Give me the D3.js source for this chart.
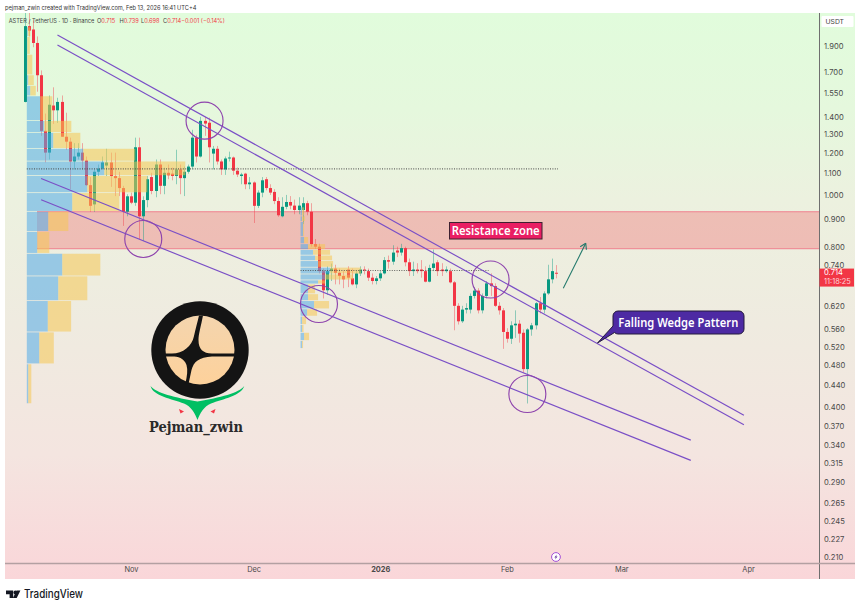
<!DOCTYPE html>
<html><head><meta charset="utf-8">
<script src="https://cdn.jsdelivr.net/npm/d3@7"></script>
<style>
html,body{margin:0;padding:0;background:#fff}
svg{display:block}
text{font-family:"Inter","Noto Sans",sans-serif}
</style></head><body>
<script>
// ---------- data ----------
const firstCandle = "2025-10-06";
const opens  = [1.493,2.07,2.04,1.925,1.675,1.318,1.20,1.47,1.44,1.493,1.285,1.258,1.155,1.18,1.20,1.16,1.043,0.96,1.105,1.12,1.135,1.15,1.085,1.075,1.03,0.93,0.994,0.967,1.228,0.912,0.978,1.08,1.017,1.14,1.04,1.10,1.096,1.085,1.116,1.075,1.105,1.13,1.28,1.18,1.376,1.365,1.195,1.22,1.155,1.116,1.17,1.175,1.11,1.085,1.096,1.047,1.055,0.954,1.01,1.07,1.03,1.013,0.974,0.912,0.95,0.97,0.955,0.937,0.937,0.965,0.93,0.809,0.80,0.72,0.663,0.72,0.728,0.715,0.705,0.725,0.698,0.68,0.713,0.725,0.72,0.70,0.69,0.698,0.713,0.755,0.75,0.787,0.78,0.795,0.748,0.72,0.725,0.725,0.72,0.688,0.73,0.748,0.725,0.72,0.72,0.686,0.62,0.58,0.61,0.61,0.647,0.662,0.608,0.647,0.683,0.675,0.62,0.608,0.554,0.538,0.57,0.574,0.552,0.472,0.56,0.57,0.627,0.61,0.654,0.695,0.715];
const highs  = [2.20,2.20,2.12,1.98,1.71,1.42,1.535,1.59,1.52,1.535,1.425,1.28,1.25,1.25,1.25,1.18,1.08,1.116,1.14,1.18,1.22,1.20,1.20,1.105,1.04,1.003,1.01,1.28,1.28,0.994,1.085,1.10,1.165,1.165,1.125,1.14,1.125,1.215,1.14,1.13,1.14,1.324,1.296,1.40,1.40,1.395,1.235,1.235,1.165,1.18,1.205,1.18,1.125,1.10,1.10,1.08,1.06,1.02,1.08,1.08,1.047,1.025,0.99,0.99,1.0,0.995,0.98,0.99,0.99,0.975,0.965,0.827,0.81,0.728,0.735,0.744,0.74,0.728,0.72,0.735,0.728,0.72,0.735,0.735,0.728,0.713,0.705,0.72,0.765,0.77,0.805,0.80,0.81,0.80,0.76,0.75,0.745,0.755,0.735,0.74,0.79,0.755,0.745,0.735,0.728,0.69,0.627,0.62,0.627,0.654,0.672,0.669,0.654,0.69,0.713,0.683,0.63,0.614,0.563,0.58,0.608,0.583,0.56,0.563,0.576,0.63,0.644,0.66,0.74,0.76,0.739];
const lows   = [1.49,1.98,1.89,1.56,1.29,1.15,1.165,1.358,1.364,1.285,1.215,1.025,1.116,1.165,1.116,1.04,0.93,0.93,1.085,1.116,1.085,1.035,0.995,0.995,0.875,0.912,0.961,0.954,0.827,0.82,0.948,1.003,0.99,1.003,1.003,1.07,1.065,1.047,1.003,0.995,1.096,1.116,1.15,1.175,1.29,1.15,1.116,1.14,1.09,1.09,1.155,1.09,1.08,1.047,1.025,1.025,0.886,0.945,0.99,1.02,1.0,0.961,0.91,0.908,0.94,0.94,0.92,0.92,0.882,0.916,0.80,0.792,0.713,0.64,0.65,0.69,0.68,0.68,0.669,0.672,0.677,0.669,0.705,0.71,0.69,0.68,0.68,0.69,0.71,0.728,0.74,0.765,0.77,0.735,0.705,0.705,0.713,0.70,0.686,0.686,0.72,0.705,0.705,0.715,0.683,0.558,0.572,0.576,0.60,0.60,0.64,0.60,0.60,0.64,0.647,0.617,0.597,0.515,0.529,0.526,0.54,0.529,0.465,0.407,0.545,0.56,0.60,0.60,0.65,0.683,0.698];
const closes = [2.07,2.03,1.925,1.675,1.318,1.20,1.475,1.44,1.493,1.285,1.258,1.155,1.18,1.20,1.16,1.043,0.954,1.105,1.12,1.15,1.15,1.085,1.075,1.03,0.93,0.994,0.967,1.228,0.912,0.978,1.07,1.017,1.14,1.04,1.10,1.088,1.085,1.116,1.075,1.105,1.13,1.28,1.18,1.376,1.36,1.228,1.22,1.155,1.116,1.17,1.175,1.11,1.092,1.092,1.047,1.055,0.954,1.01,1.065,1.03,1.01,0.974,0.916,0.95,0.97,0.955,0.937,0.955,0.965,0.93,0.809,0.80,0.72,0.663,0.72,0.728,0.715,0.705,0.695,0.70,0.68,0.713,0.725,0.722,0.70,0.69,0.698,0.713,0.755,0.75,0.78,0.78,0.795,0.748,0.72,0.725,0.72,0.72,0.688,0.73,0.744,0.72,0.72,0.725,0.686,0.62,0.58,0.61,0.614,0.647,0.662,0.608,0.647,0.683,0.675,0.62,0.608,0.554,0.538,0.57,0.574,0.55,0.472,0.56,0.57,0.627,0.61,0.654,0.695,0.72,0.714];

const priceTicks = [1.9,1.7,1.55,1.4,1.3,1.2,1.1,1.0,0.9,0.8,0.74,0.62,0.56,0.52,0.48,0.44,0.4,0.37,0.34,0.315,0.29,0.265,0.245,0.227,0.21];
const timeTicks  = ["2025-11-01","2025-12-01","2026-01-01","2026-02-01","2026-03-01","2026-04-01"];
const timeLabels = ["Nov","Dec","2026","Feb","Mar","Apr"];

// volume profiles: row edges in price, volume in each row
const profile1Edges = [2.06,1.975,1.83,1.675,1.60,1.53,1.376,1.307,1.22,1.155,1.085,1.008,0.93,0.853,0.776,0.704,0.633,0.553,0.482,0.406];
const profile1Blue  = [1,0.5,0.5,1.5,3.5,13.5,17.5,26.5,56.5,77.5,60.5,45.5,21.5,10.5,35.5,31.5,21,12.5,1.5];
const profile1Gold  = [2.5,2.5,5,5.5,5.5,12,27,27,52,81,60,47,20,12,38,29,23.3,14.5,3];
const profile2Edges = [0.948,0.912,0.89,0.834,0.809,0.789,0.77,0.752,0.731,0.71,0.692,0.68,0.652,0.633,0.611,0.592,0.571,0.552,0.533,0.515];
const profile2Blue  = [1.5,1.5,2.5,3.5,7.5,12.5,14.5,17.5,29.5,24.5,17.5,7.5,7.5,13.5,6.5,1.5,1.5,3.5,1.5];
const profile2Gold  = [2,3,1,4,17,17,17,15,31,28,7,7,10,15,10,4,1.5,5,1];
const profileStarts = ["2025-10-06T12:00","2025-12-12T12:00"];
const pocPrices = [1.119,0.722];
const pocEnds   = ["2026-02-13T12:00","2026-01-27T12:00"];

const zonePrices = [0.93,0.793];
const zoneStart  = "2025-10-09";

const wedgeDates  = [["2025-10-14","2026-03-31"],["2025-10-14","2026-03-31"],["2025-10-10","2026-03-18"],["2025-10-10","2026-03-18"]];
const wedgePrices = [[1.992,0.387],[1.908,0.3715],[1.073,0.3475],[0.979,0.3185]];

const circleDates  = ["2025-11-19","2025-11-04","2025-12-17","2026-01-28","2026-02-06"];
const circlePrices = [1.377,0.827,0.625,0.6945,0.424];

const arrowDates  = ["2026-02-14T19:00","2026-02-20T07:00"];
const arrowPrices = [0.6686,0.8117];

// ---------- scales ----------
const W=860,H=609;
const parse=s=>new Date(s.length===10?s+"T00:00Z":s+"Z");
const x=d3.scaleUtc().domain([parse("2025-11-01"),parse("2026-04-01")]).range([131,748]);
const y=d3.scaleLog().domain([1.9,0.21]).range([46,557]);
const vol=d3.scaleLinear().domain([0,100]).range([0,100]);
const plot={l:5,t:13,r:819.5,b:563,band:855,bottom:579};

const svg=d3.select("body").append("svg").attr("width",W).attr("height",H).attr("viewBox",[0,0,W,H]);
const defs=svg.append("defs");
const g=defs.append("linearGradient").attr("id","bg").attr("x1",0).attr("x2",0).attr("y1",0).attr("y2",1);
[[0,"#e1fcdc"],[0.17,"#e5f8dd"],[0.33,"#ecf1df"],[0.55,"#efebe0"],[0.78,"#f4e5e0"],[1,"#fad6d9"]]
 .forEach(([o,c])=>g.append("stop").attr("offset",o).attr("stop-color",c));
const lg=defs.append("linearGradient").attr("id","peach").attr("x1",0).attr("x2",0).attr("y1",0).attr("y2",1);
lg.append("stop").attr("offset",0).attr("stop-color","#f4d5ae");
lg.append("stop").attr("offset",1).attr("stop-color","#fdd19b");
defs.append("clipPath").attr("id","plotclip").append("rect").attr("x",plot.l).attr("y",plot.t).attr("width",plot.r-plot.l).attr("height",plot.b-plot.t);

svg.append("text").attr("x",5).attr("y",9.8).attr("font-size",5.7).attr("fill","#333")
  .text("pejman_zwin created with TradingView.com, Feb 13, 2026 16:41 UTC+4");

svg.append("rect").attr("x",plot.l).attr("y",plot.t).attr("width",plot.band-plot.l).attr("height",plot.bottom-plot.t).attr("fill","url(#bg)");

const chart=svg.append("g").attr("clip-path","url(#plotclip)");

// resistance zone
const zx=x(parse(zoneStart));
chart.append("rect").attr("x",zx).attr("y",y(zonePrices[0])).attr("width",plot.r-zx).attr("height",y(zonePrices[1])-y(zonePrices[0]))
  .attr("fill","#f23645").attr("fill-opacity",0.27);
zonePrices.forEach(p=>chart.append("line").attr("x1",zx).attr("x2",plot.r).attr("y1",y(p)).attr("y2",y(p)).attr("stroke","#f0808f").attr("stroke-width",1));

// candles
const candles=opens.map((o,i)=>({date:d3.utcDay.offset(parse(firstCandle),i),o,h:highs[i],l:lows[i],c:closes[i]}));
const cg=chart.append("g");
const UP="#089981",DN="#f23645";
cg.selectAll("line").data(candles).join("line")
  .attr("x1",d=>Math.round(x(d.date))+0.5).attr("x2",d=>Math.round(x(d.date))+0.5)
  .attr("y1",d=>y(d.h)).attr("y2",d=>y(d.l))
  .attr("stroke",d=>d.c>=d.o?UP:DN).attr("stroke-opacity",0.42);
cg.selectAll("rect").data(candles).join("rect")
  .attr("x",d=>Math.round(x(d.date))-1).attr("width",3)
  .attr("y",d=>Math.min(y(d.o),y(d.c))).attr("height",d=>Math.max(1,Math.abs(y(d.o)-y(d.c))))
  .attr("fill",d=>d.c>=d.o?UP:DN);

// volume profiles
function profile(edges,blue,gold,start){
  const x0=x(parse(start));
  const pg=chart.append("g");
  blue.forEach((b,i)=>{
    const y0=y(edges[i]),y1=y(edges[i+1])-0.8;
    pg.append("rect").attr("x",x0).attr("y",y0).attr("width",vol(b)).attr("height",y1-y0).attr("fill","#50a9e7").attr("fill-opacity",0.55);
    pg.append("rect").attr("x",x0+vol(b)).attr("y",y0).attr("width",vol(gold[i])).attr("height",y1-y0).attr("fill","#f6c652").attr("fill-opacity",0.55);
  });
}
profile(profile1Edges,profile1Blue,profile1Gold,profileStarts[0]);
profile(profile2Edges,profile2Blue,profile2Gold,profileStarts[1]);

// POC dotted lines
pocPrices.forEach((p,i)=>chart.append("line")
  .attr("x1",x(parse(profileStarts[i]))).attr("x2",x(parse(pocEnds[i])))
  .attr("y1",y(p)).attr("y2",y(p)).attr("stroke","#444").attr("stroke-opacity",.8).attr("stroke-width",1.1).attr("stroke-dasharray","1 1.4"));

// wedge lines
const PURPLE="#7a4fc6";
wedgeDates.forEach((ds,i)=>{
  const pts=ds.map((d,j)=>[x(parse(d)),y(wedgePrices[i][j])]);
  chart.append("path").attr("d",d3.line()(pts)).attr("fill","none").attr("stroke",PURPLE).attr("stroke-width",1.15);
});

// circles
circleDates.forEach((d,i)=>chart.append("circle").attr("cx",x(parse(d))).attr("cy",y(circlePrices[i])).attr("r",18.5)
  .attr("fill","none").attr("stroke","#8e44ad").attr("stroke-width",1.15));

// arrow
const ax0=x(parse(arrowDates[0])),ay0=y(arrowPrices[0]),ax1=x(parse(arrowDates[1])),ay1=y(arrowPrices[1]);
chart.append("path").attr("d",`M${ax0},${ay0}L${ax1},${ay1}`).attr("stroke","#22796b").attr("fill","none").attr("stroke-width",1.1);
const ang=Math.atan2(ay1-ay0,ax1-ax0);
const headLine=(a)=>`M${ax1},${ay1}L${ax1+6.5*Math.cos(ang+a)},${ay1+6.5*Math.sin(ang+a)}`;
chart.append("path").attr("d",headLine(Math.PI*0.82)+headLine(-Math.PI*0.82)).attr("stroke","#22796b").attr("fill","none").attr("stroke-width",1.1);

// resistance label
const labelFont='"Noto Sans",sans-serif';
svg.append("rect").attr("x",449.5).attr("y",222.5).attr("width",92.5).attr("height",16.5).attr("fill","#e91e63").attr("stroke","#3d2030").attr("stroke-width",1);
svg.append("text").attr("x",495.7).attr("y",235.2).attr("text-anchor","middle").attr("fill","#fff").attr("font-size",12.2).attr("font-weight",600)
  .attr("textLength",88).attr("lengthAdjust","spacingAndGlyphs").style("font-family",labelFont).text("Resistance zone");

// wedge label
svg.append("path")
  .attr("d","M618,311H739a5,5 0 0 1 5,5V329a5,5 0 0 1 -5,5H618a5,5 0 0 1 -3.5,-1.5L597.5,343L613,326V316a5,5 0 0 1 5,-5Z")
  .attr("fill","#4d2aa3").attr("stroke","#241a3d").attr("stroke-width",1);
svg.append("text").attr("x",678.3).attr("y",326.8).attr("text-anchor","middle").attr("fill","#fff").attr("font-size",12.2).attr("font-weight",600)
  .attr("textLength",120).attr("lengthAdjust","spacingAndGlyphs").style("font-family",labelFont).text("Falling Wedge Pattern");

// logo
const logo=svg.append("g");
logo.append("circle").attr("cx",200).attr("cy",350).attr("r",48.7).attr("fill","#141414");
logo.append("circle").attr("cx",200).attr("cy",350).attr("r",34.5).attr("fill","url(#peach)");
logo.append("path").attr("fill","#141414").attr("stroke","none")
  .attr("d","M199,315.5L203,315.5C201,326 198.5,334 198.5,340C198.5,349 203,353.5 212,353.5L235,353.5L235,356.5L212,356.5C199,357 193.5,362 191.5,370L188.5,384L185.5,383C187,376 188,370 186.5,365C184,358 178,356.6 172,356.6L165,356.6L165,353.6L172,353.6C183,353.6 192,346 194,336C195.5,329 197.5,322 199,315.5Z");
logo.append("path").attr("fill","#00bf63")
  .attr("d","M150.5,386C153,396 172,399 184,403.5C191,406.5 195,413 197.5,420C200,413 204,406.5 211,403.5C223,399 241,396 244.3,386C239,393 220,397.5 197.5,401.5C175,397.5 156,393 150.5,386Z");
logo.append("path").attr("fill","#f23645").attr("d","M179,409L184,411.5L180.5,413.5Z");
logo.append("path").attr("fill","#f23645").attr("d","M215.5,409L210.5,411.5L214,413.5Z");
logo.append("text").attr("x",149).attr("y",432).attr("font-size",14.5).attr("font-weight",700).attr("fill","#2a2a2a")
  .attr("textLength",94).attr("lengthAdjust","spacingAndGlyphs").style("font-family",'"DejaVu Serif",serif').text("Pejman_zwin");

// header legend
const legend=svg.append("text").attr("x",8.7).attr("y",22.8).attr("font-size",5.65).attr("fill","#444");
const legendLabels=["ASTER / TetherUS · 1D · Binance","O","H","L","C",""];
const legendValues=["","0.715","0.739","0.698","0.714","−0.001 (−0.14%)"];
const legendStarts=[8.7,97,119.5,141,163,183];
legendLabels.forEach((t,i)=>{
  const ts=legend.append("tspan").attr("x",legendStarts[i]).attr("fill","#444").text(t);
  legend.append("tspan").attr("fill",DN).text(legendValues[i]);
});

// axes
const yAxis=d3.axisRight(y).tickValues(priceTicks).tickFormat(d3.format(".3f")).tickSize(0).tickPadding(4.5);
const ya=svg.append("g").attr("transform",`translate(${plot.r},0)`).call(yAxis);
ya.select(".domain").remove();
ya.selectAll("text").attr("font-size",7.6).attr("fill","#4a4a4a").style("font-family",'"Inter",sans-serif');
svg.append("line").attr("x1",plot.r).attr("x2",plot.r).attr("y1",plot.t).attr("y2",plot.bottom).attr("stroke","#6f6f6f").attr("stroke-width",1);

const xAxis=d3.axisBottom(x).tickValues(timeTicks.map(parse)).tickFormat((d,i)=>timeLabels[i]).tickSize(0).tickPadding(4);
const xa=svg.append("g").attr("transform",`translate(0,${plot.b})`).call(xAxis);
xa.select(".domain").remove();
xa.selectAll("text").attr("font-size",7.4).attr("fill","#4a4a4a").attr("font-weight",(d,i)=>timeLabels[i]==="2026"?700:400);
svg.append("line").attr("x1",plot.l).attr("x2",plot.band).attr("y1",plot.b+0.5).attr("y2",plot.b+0.5).attr("stroke","#b3a0a2").attr("stroke-width",1.6);

// USDT box
svg.append("rect").attr("x",821.5).attr("y",16).attr("width",32).attr("height",11).attr("rx",1).attr("fill","#fff");
svg.append("text").attr("x",825.5).attr("y",24).attr("font-size",6.8).attr("fill","#444").text("USDT");

// last price tag
const lastClose=closes[closes.length-1];
svg.append("rect").attr("x",plot.r).attr("y",y(lastClose)-4.5).attr("width",34.5).attr("height",18).attr("fill","#f23645");
svg.append("text").attr("x",824).attr("y",y(lastClose)+2).attr("font-size",7.6).attr("fill","#fff").text(d3.format(".3f")(lastClose));
svg.append("text").attr("x",824).attr("y",y(lastClose)+10.8).attr("font-size",7.4).attr("fill","#ffd5d8").text("11:18:25");

// event icon
const ev=svg.append("g").attr("transform",`translate(${x(parse("2026-02-13"))},557)`);
ev.append("circle").attr("r",4.4).attr("fill","#fff").attr("stroke","#a34fd6").attr("stroke-width",1);
ev.append("path").attr("d","M0.8,-2.6L-1.6,0.4H-0.2L-0.8,2.6L1.6,-0.4H0.2Z").attr("fill","#6b3fa0");

// TradingView footer
const tv=svg.append("g").attr("fill","#131722");
tv.append("path").attr("d","M6,590.6H13.2V598H9.6V594.2H6Z");
tv.append("circle").attr("cx",15.4).attr("cy",592.5).attr("r",1.9);
tv.append("path").attr("d","M20.4,590.6L16.7,598H12.9L16.6,590.6Z");
tv.append("text").attr("x",24).attr("y",598).attr("font-size",11.4).attr("font-weight",500).attr("textLength",59).attr("lengthAdjust","spacingAndGlyphs").text("TradingView");
</script>
</body></html>
